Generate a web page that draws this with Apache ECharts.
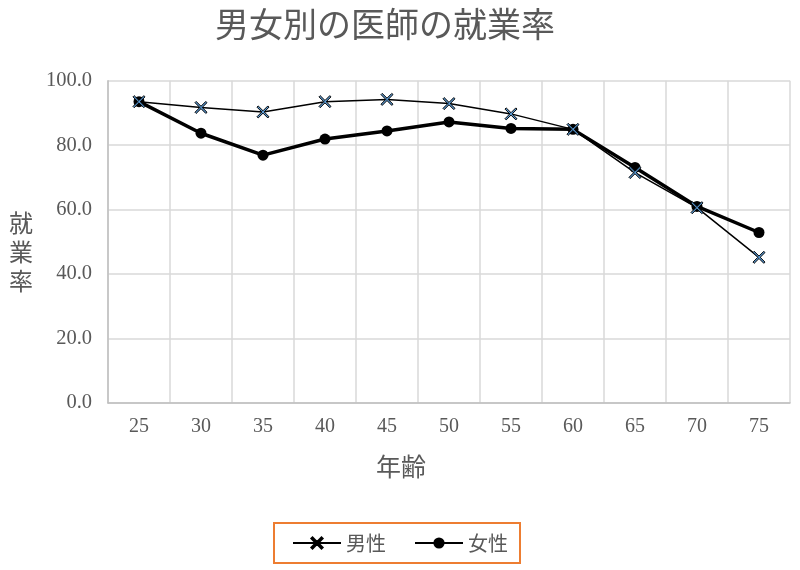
<!DOCTYPE html>
<html><head><meta charset="utf-8">
<script src="https://cdn.jsdelivr.net/npm/echarts@6/dist/echarts.min.js"></script>
<style>html,body{margin:0;padding:0;background:#fff}#c{width:800px;height:570px}</style>
</head><body><div id="c"></div>
<script>
const categories = ['25','30','35','40','45','50','55','60','65','70','75'];
const male = [93.5, 91.7, 90.3, 93.5, 94.2, 92.9, 89.7, 84.9, 71.5, 60.6, 45.2];
const female = [93.5, 83.7, 76.9, 81.9, 84.4, 87.2, 85.2, 84.9, 73.1, 61.0, 52.9];
const yTicks = [0, 20, 40, 60, 80, 100];
const titleText = '男女別の医師の就業率';
const xName = '年齢';
const yName = '就業率';
const seriesNames = ['男性', '女性'];

const jp = '"Noto Sans CJK JP", sans-serif';
const num = '"Liberation Serif", "DejaVu Serif", serif';
const xPath = 'path://M0,2 L2,0 L10,8 L18,0 L20,2 L12,10 L20,18 L18,20 L10,12 L2,20 L0,18 L8,10 Z';

const chart = echarts.init(document.getElementById('c'));
chart.setOption({
  backgroundColor: '#fff',
  animation: false,
  title: { text: titleText, left: 210, top: 2,
    textStyle: { fontFamily: jp, fontSize: 34, fontWeight: 'normal', color: '#595959' } },
  graphic: [
    { type: 'text', left: 9, top: 208,
      style: { text: yName.split('').join('\n'), font: '24px ' + jp, fill: '#595959', lineHeight: 29 } },
    { type: 'text', left: 376, top: 454,
      style: { text: xName, font: '25px ' + jp, fill: '#595959' } }
  ],
  grid: { left: 108, right: 10, top: 80.7, bottom: 167 },
  legend: {
    data: seriesNames, left: 'center', bottom: 7,
    borderColor: '#ED7D31', borderWidth: 2, padding: [10, 12, 10, 18],
    itemWidth: 48, itemHeight: 14, itemGap: 28,
    textStyle: { fontFamily: jp, fontSize: 20, color: '#595959' }
  },
  xAxis: {
    type: 'category', data: categories, boundaryGap: true,
    axisLine: { lineStyle: { color: '#bfbfbf', width: 1.5 } },
    axisTick: { show: false },
    axisLabel: { fontFamily: num, fontSize: 20, color: '#595959', margin: 14 },
    splitLine: { show: true, lineStyle: { color: '#d9d9d9', width: 1.5 } }
  },
  yAxis: {
    type: 'value', min: yTicks[0], max: yTicks[yTicks.length - 1], interval: 20,
    axisLine: { show: true, lineStyle: { color: '#bfbfbf', width: 1.5 } },
    axisTick: { show: false },
    axisLabel: { fontFamily: num, fontSize: 20.5, color: '#595959', margin: 16,
      formatter: v => v.toFixed(1) },
    splitLine: { lineStyle: { color: '#d9d9d9', width: 1.5 } }
  },
  series: [
    { name: seriesNames[0], type: 'line', data: male, symbol: xPath, symbolSize: 12,
      lineStyle: { color: '#000', width: 1.5 },
      itemStyle: { color: '#5B9BD5', borderColor: '#000', borderWidth: 1 }, z: 3 },
    { name: seriesNames[1], type: 'line', data: female, symbol: 'circle', symbolSize: 11,
      lineStyle: { color: '#000', width: 3.5 },
      itemStyle: { color: '#000' }, z: 2 }
  ]
});
</script></body></html>
